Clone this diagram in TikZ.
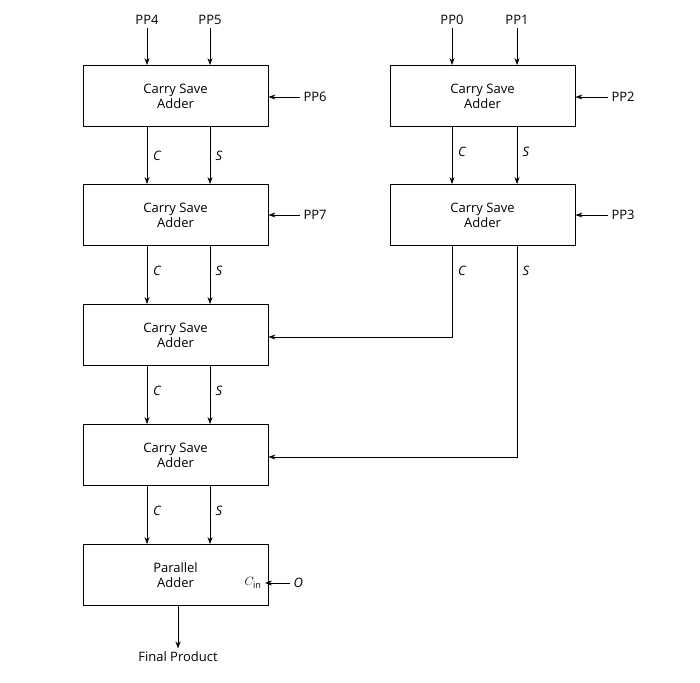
\documentclass[tikz,border=0pt]{standalone}
\usepackage{fontspec}
\setmainfont{Open Sans}
\usetikzlibrary{arrows.meta}
\begin{document}
\begin{tikzpicture}[x=1pt,y=-1pt,
 box/.style={draw,thick,minimum width=185pt,minimum height=61pt,align=center,font=\fontsize{13}{15}\selectfont,inner sep=0pt},
 lab/.style={font=\fontsize{13}{15}\selectfont},
 il/.style={font=\fontsize{13}{15}\selectfont\itshape},
 ar/.style={-{Stealth[length=7pt,width=5pt]},thick}]
\useasboundingbox (0,0) rectangle (700,682);
\node[box] (L1) at (175.5,96) {Carry Save\\Adder};
\node[box] (L2) at (175.5,215) {Carry Save\\Adder};
\node[box] (L3) at (175.5,335) {Carry Save\\Adder};
\node[box] (L4) at (175.5,455) {Carry Save\\Adder};
\node[box] (L5) at (175.5,575) {Parallel\\Adder};
\node[box] (R1) at (482.5,96) {Carry Save\\Adder};
\node[box] (R2) at (482.5,215) {Carry Save\\Adder};
% top inputs
\node[lab] (pp4) at (147,20) {PP4};
\node[lab] (pp5) at (210,20) {PP5};
\node[lab] (pp0) at (452,20) {PP0};
\node[lab] (pp1) at (517,20) {PP1};
\draw[ar] (pp4) -- (pp4 |- L1.north);
\draw[ar] (pp5) -- (pp5 |- L1.north);
\draw[ar] (pp0) -- (pp0 |- R1.north);
\draw[ar] (pp1) -- (pp1 |- R1.north);
% side inputs
\node[lab,anchor=west] (pp6) at (300,97) {PP6};
\node[lab,anchor=west] (pp7) at (300,215) {PP7};
\node[lab,anchor=west] (pp2) at (608,97) {PP2};
\node[lab,anchor=west] (pp3) at (608,215) {PP3};
\draw[ar] (pp6.west) -- (pp6.west -| L1.east);
\draw[ar] (pp7.west) -- (pp7.west -| L2.east);
\draw[ar] (pp2.west) -- (pp2.west -| R1.east);
\draw[ar] (pp3.west) -- (pp3.west -| R2.east);
% vertical C/S connections
\foreach \a/\b/\y in {L1/L2/156,L2/L3/271,L3/L4/391,L4/L5/511}{
 \draw[ar] (\a.south -| 147,0) -- (\b.north -| 147,0);
 \draw[ar] (\a.south -| 210,0) -- (\b.north -| 210,0);
 \node[il] at (157,\y) {C};
 \node[il] at (219,\y) {S};
}
\draw[ar] (R1.south -| 452,0) -- (R2.north -| 452,0);
\draw[ar] (R1.south -| 517,0) -- (R2.north -| 517,0);
\node[il] at (462,152) {C};
\node[il] at (526,152) {S};
\node[il] at (462,271) {C};
\node[il] at (526,271) {S};
\draw[ar] (R2.south -| 452,0) |- (L3.east |- 0,337);
\draw[ar] (R2.south -| 517,0) |- (L4.east |- 0,457);
% Cin
\node[lab] (cin) at (253,583) {$C_{\mathrm{in}}$};
\node[il,anchor=west] (zero) at (290,583) {O};
\draw[ar] (zero.west) -- (cin.east);
% output
\node[lab] (fp) at (178,657) {Final Product};
\draw[ar] (L5.south -| fp) -- (fp.north);
\end{tikzpicture}
\end{document}
